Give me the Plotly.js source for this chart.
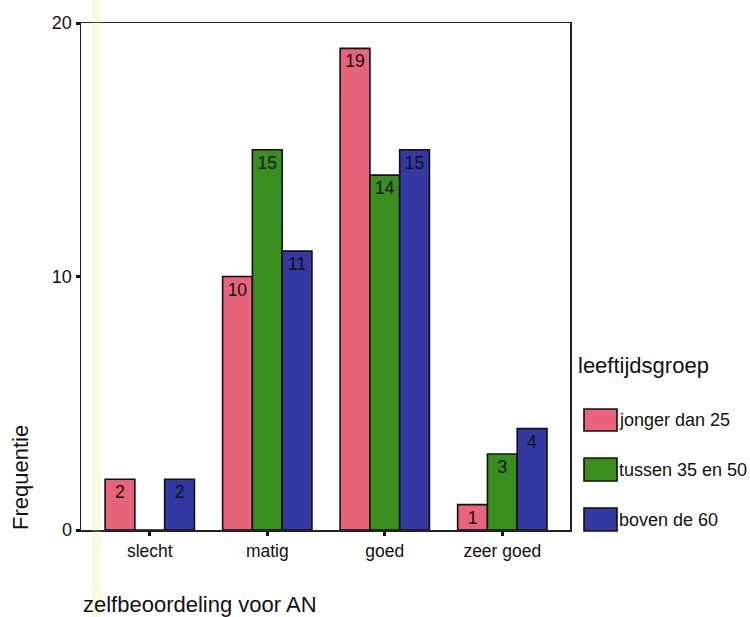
<!DOCTYPE html>
<html><head><meta charset="utf-8">
<script src="https://cdn.plot.ly/plotly-3.0.1.min.js"></script>
<style>html,body{margin:0;padding:0;background:#fff}#chart{width:750px;height:617px}</style>
</head><body><div id="chart"></div>
<script>
var categories = ['slecht', 'matig', 'goed', 'zeer goed'];
var seriesNames = ['jonger dan 25', 'tussen 35 en 50', 'boven de 60'];
var jonger = [2, 10, 19, 1];
var tussen = [0, 15, 14, 3];
var boven = [2, 11, 15, 4];
var yTicks = [0, 10, 20];
var colors = ['#E8647A', '#3A8E1E', '#3438A2'];
var values = [jonger, tussen, boven];

var font = 'Liberation Sans, Arial, sans-serif';
var traces = values.map(function (v, i) {
  return {
    type: 'bar', x: categories, y: v, name: seriesNames[i],
    marker: {color: colors[i], line: {color: '#111', width: 1.6}},
    text: v.map(function (d) { return d > 0 ? String(d) : ''; }),
    textposition: 'inside', insidetextanchor: 'end', textangle: 0,
    constraintext: 'none',
    insidetextfont: {family: font, size: 17.5, color: '#111'},
    showlegend: false, hoverinfo: 'x+y+name'
  };
});

// plot area in pixels: x 81..570, y 23..530
var L = 81, R = 570, T = 23, B = 530, W = 750, H = 617;
function px(x) { return (x - L) / (R - L); }
function py(y) { return (B - y) / (B - T); }

var shapes = [];
var annotations = [];
var sw = [[409, 431], [458, 481], [508, 531]];
seriesNames.forEach(function (n, i) {
  shapes.push({type: 'rect', xref: 'paper', yref: 'paper',
    x0: px(584), x1: px(617), y0: py(sw[i][1]), y1: py(sw[i][0]),
    fillcolor: colors[i], line: {color: '#111', width: 1.6}});
  annotations.push({xref: 'paper', yref: 'paper', x: px(617), y: py((sw[i][0] + sw[i][1]) / 2),
    xanchor: 'left', yanchor: 'middle', text: n, showarrow: false,
    font: {family: font, size: 18, color: '#111'}});
});
annotations.push({xref: 'paper', yref: 'paper', x: px(576), y: py(365),
  xanchor: 'left', yanchor: 'middle', text: 'leeftijdsgroep', showarrow: false,
  font: {family: font, size: 22, color: '#111'}});
annotations.push({xref: 'paper', yref: 'paper', x: px(20), y: py(478),
  xanchor: 'center', yanchor: 'middle', text: 'Frequentie', showarrow: false, textangle: -90,
  font: {family: font, size: 22, color: '#111'}});
annotations.push({xref: 'paper', yref: 'paper', x: px(81), y: py(604),
  xanchor: 'left', yanchor: 'middle', text: 'zelfbeoordeling voor AN', showarrow: false,
  font: {family: font, size: 22, color: '#111'}});
// faint yellow scan streak
shapes.push({type: 'rect', xref: 'paper', yref: 'paper', layer: 'above',
  x0: px(92), x1: px(101), y0: py(H), y1: py(0),
  fillcolor: 'rgba(230,235,120,0.22)', line: {width: 0}});

var layout = {
  width: W, height: H,
  margin: {l: L, r: W - R, t: T, b: H - B, pad: 0},
  paper_bgcolor: '#fff', plot_bgcolor: '#fff',
  barmode: 'group', bargap: 0.24, bargroupgap: 0,
  font: {family: font, size: 17, color: '#111'},
  xaxis: {type: 'category', range: [-0.585, 3.576], showline: true, mirror: true,
    linecolor: '#222', linewidth: 1.5, ticks: 'outside', ticklen: 4, tickwidth: 3, tickcolor: '#111',
    showgrid: false, zeroline: false, tickfont: {family: font, size: 17.5, color: '#111'}},
  yaxis: {range: [0, 20], tickvals: yTicks, ticktext: yTicks.map(String), showline: true, mirror: true,
    linecolor: '#222', linewidth: 1.5, ticks: 'outside', ticklen: 4, tickwidth: 3, tickcolor: '#111',
    showgrid: false, zeroline: false, tickfont: {family: font, size: 18, color: '#111'}},
  shapes: shapes, annotations: annotations, showlegend: false
};
Plotly.newPlot('chart', traces, layout, {displayModeBar: false, staticPlot: true});
</script></body></html>
